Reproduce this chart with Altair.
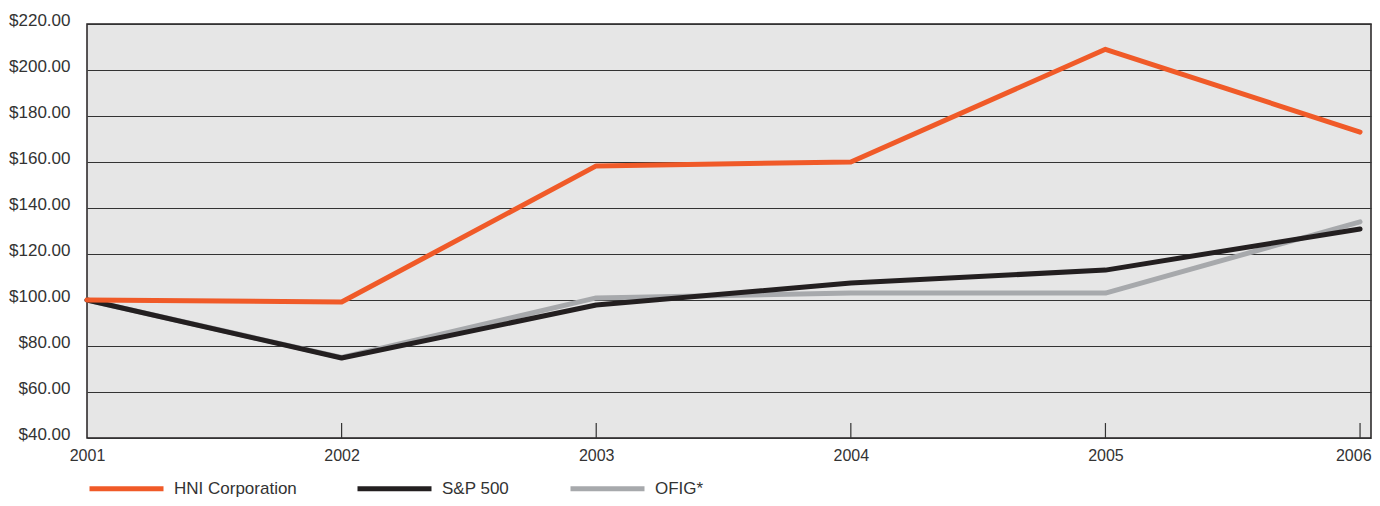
import altair as alt
import pandas as pd

years = [2001, 2002, 2003, 2004, 2005, 2006]
hni = [100.0, 99.1, 158.3, 160.0, 209.0, 173.0]
sp500 = [100.0, 74.8, 97.8, 107.4, 113.0, 130.9]
ofig = [100.0, 75.0, 100.9, 103.0, 103.0, 134.0]
series_names = ["HNI Corporation", "S&P 500", "OFIG*"]
series_colors = ["#F05A28", "#231F20", "#A7A9AC"]
y_ticks = [40, 60, 80, 100, 120, 140, 160, 180, 200, 220]

rows = []
for name, vals, order in [("OFIG*", ofig, 0), ("S&P 500", sp500, 1), ("HNI Corporation", hni, 2)]:
    for yr, v in zip(years, vals):
        rows.append({"year": yr, "value": v, "series": name, "order": order})
df = pd.DataFrame(rows)
ticks_df = pd.DataFrame({"year": years[1:], "y0": [40] * 5, "y1": [46.5] * 5})

FONT = "Liberation Sans"

xscale = alt.Scale(domain=[2001, 2006.043], nice=False, zero=False)
yscale = alt.Scale(domain=[40, 220], nice=False, zero=False)

last_year = "datum.value == %d" % years[-1]

lines = alt.Chart(df).mark_line(strokeWidth=5, strokeCap="round", strokeJoin="round").encode(
    x=alt.X("year:Q", scale=xscale,
            axis=alt.Axis(values=years, format="d", title=None, grid=False, domain=False,
                          ticks=False, labelFontSize=16, labelColor="#333333",
                          labelPadding=9, labelFont=FONT, labelFlush=False,
                          labelAlign=alt.condition(last_year, alt.value("right"), alt.value("center")),
                          labelOffset=alt.condition(last_year, alt.value(11), alt.value(0)))),
    y=alt.Y("value:Q", scale=yscale,
            axis=alt.Axis(values=y_ticks, format="$.2f", title=None, grid=True,
                          gridColor="#333333", gridWidth=1, domain=False, ticks=False,
                          labelFontSize=17, labelColor="#333333", labelPadding=17,
                          labelOffset=-4, labelFont=FONT)),
    color=alt.Color("series:N",
                    scale=alt.Scale(domain=series_names, range=series_colors),
                    sort=series_names,
                    legend=alt.Legend(orient="none", legendX=0, legendY=425,
                                      direction="horizontal", title=None,
                                      symbolType="stroke", symbolSize=5476,
                                      symbolStrokeWidth=5, labelFontSize=17,
                                      labelColor="#333333", labelFont=FONT,
                                      labelOffset=8, columnPadding=50,
                                      labelLimit=300)),
    order=alt.Order("order:Q"),
    detail="series:N",
)

tick_rules = alt.Chart(ticks_df).mark_rule(color="#333333", strokeWidth=1.2).encode(
    x=alt.X("year:Q", scale=xscale),
    y=alt.Y("y0:Q", scale=yscale),
    y2="y1:Q",
)

chart = alt.layer(tick_rules, lines).properties(
    width=1284, height=414,
    autosize=alt.AutoSizeParams(type="none"),
    padding={"left": 79, "top": 16, "right": 1, "bottom": 60},
    background="white",
).configure_view(
    fill="#E6E6E6", stroke="#231F20", strokeWidth=1.5
)

chart.save("out.html", embed_options={"renderer": "svg", "actions": False})
